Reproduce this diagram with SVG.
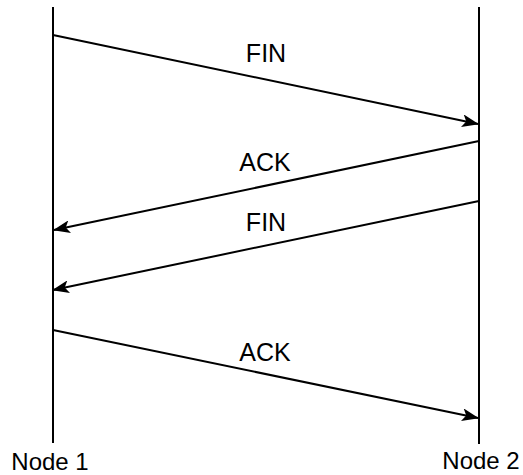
<svg xmlns="http://www.w3.org/2000/svg" width="523" height="475" viewBox="0 0 523 475">
<style>
.ln{stroke:#000;stroke-width:2;fill:none}
.lab{font-family:"Liberation Sans",Arial,sans-serif;font-size:25px;fill:#000;text-anchor:middle}
.nl{font-size:24px}
</style>
<defs>
<marker id="ah" viewBox="0 0 17 13" refX="16" refY="6.5" markerWidth="17" markerHeight="13" markerUnits="userSpaceOnUse" orient="auto">
<path d="M0,0 L17,6.5 L0,13 L4,6.5 Z" fill="#000"/>
</marker>
</defs>
<rect width="523" height="475" fill="#fff"/>
<g id="node1">
<line class="ln" x1="53" y1="7" x2="53" y2="443"/>
<text class="lab nl" x="50" y="470">Node 1</text>
</g>
<g id="node2">
<line class="ln" x1="479" y1="7" x2="479" y2="444"/>
<text class="lab nl" x="481" y="469">Node 2</text>
</g>
<g id="connectors">
<line class="ln" x1="53" y1="35" x2="478" y2="124" marker-end="url(#ah)"/>
<line class="ln" x1="479" y1="141" x2="54" y2="230" marker-end="url(#ah)"/>
<line class="ln" x1="479" y1="201" x2="53" y2="290" marker-end="url(#ah)"/>
<line class="ln" x1="53" y1="330" x2="478" y2="418" marker-end="url(#ah)"/>
<text class="lab" x="266" y="62">FIN</text>
<text class="lab" x="265" y="171">ACK</text>
<text class="lab" x="266" y="231">FIN</text>
<text class="lab" x="265" y="361">ACK</text>
</g>
</svg>
